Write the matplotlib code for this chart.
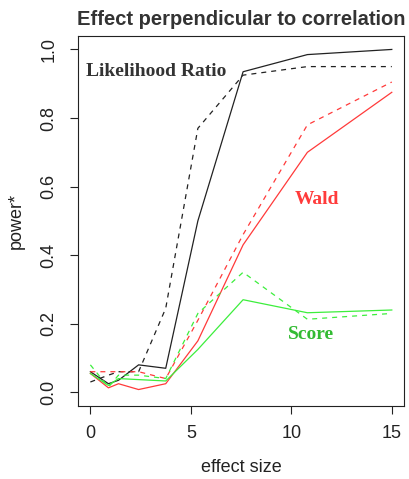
import matplotlib
matplotlib.use('Agg')
import matplotlib.pyplot as plt

# effect sizes
effect = [0, 0.9, 1.4, 2.4, 3.75, 5.35, 7.6, 10.8, 15]

# power curves, solid and dashed version for each test
lr_solid = [0.06, 0.025, 0.035, 0.08, 0.07, 0.50, 0.935, 0.985, 1.00]
lr_dashed = [0.03, 0.05, 0.06, 0.06, 0.245, 0.77, 0.925, 0.95, 0.95]
wald_solid = [0.055, 0.013, 0.025, 0.008, 0.025, 0.15, 0.43, 0.70, 0.875]
wald_dashed = [0.06, 0.06, 0.06, 0.06, 0.04, 0.21, 0.46, 0.78, 0.905]
score_solid = [0.055, 0.02, 0.04, 0.037, 0.033, 0.125, 0.27, 0.232, 0.24]
score_dashed = [0.08, 0.015, 0.05, 0.05, 0.04, 0.23, 0.35, 0.213, 0.23]

xticks = [0, 5, 10, 15]
yticks = [0.0, 0.2, 0.4, 0.6, 0.8, 1.0]

txt = '#222222'
red = '#ff3a3a'
green = '#3cee3c'
black = '#222222'

plt.rcParams['font.family'] = ['Liberation Sans', 'DejaVu Sans']

fig = plt.figure(figsize=(4.10, 4.79), dpi=100)
ax = fig.add_axes([0.191, 0.1524, 0.794, 0.773])

lw = 0.9
ax.plot(effect, lr_solid, color=black, lw=lw)
ax.plot(effect, lr_dashed, color=black, lw=lw, dashes=(4, 4))
ax.plot(effect, wald_solid, color=red, lw=lw)
ax.plot(effect, wald_dashed, color=red, lw=lw, dashes=(4, 4))
ax.plot(effect, score_solid, color=green, lw=lw)
ax.plot(effect, score_dashed, color=green, lw=lw, dashes=(4, 4))

serif = ['Liberation Serif', 'DejaVu Serif']
ax.text(3.3, 0.937, 'Likelihood Ratio', color='#333333', fontsize=14,
        fontweight='bold', family=serif, ha='center', va='center')
ax.text(11.3, 0.563, 'Wald', color='#ff3b3b', fontsize=14,
        fontweight='bold', family=serif, ha='center', va='center')
ax.text(11.0, 0.168, 'Score', color='#33bb33', fontsize=14,
        fontweight='bold', family=serif, ha='center', va='center')

ax.set_xlim(-0.6, 15.6)
ax.set_ylim(-0.04, 1.04)
ax.set_xticks(xticks)
ax.set_xticklabels([str(t) for t in xticks])
ax.set_yticks(yticks)
ax.set_yticklabels(['%.1f' % t for t in yticks], rotation=90, va='center')

ax.tick_params(direction='out', length=6, width=0.8, colors=txt,
               labelsize=13, labelcolor=txt)
ax.tick_params(axis='x', pad=8)
ax.tick_params(axis='y', pad=9)
for s in ax.spines.values():
    s.set_linewidth(0.8)
    s.set_color(txt)

ax.set_xlabel('effect size', fontsize=13, color=txt, labelpad=12)
ax.set_ylabel('power*', fontsize=13, color=txt, labelpad=11)
ax.set_title('Effect perpendicular to correlation', fontsize=14.5,
             fontweight='bold', color='#333333', pad=8)

fig.savefig('out.png', dpi=100)
